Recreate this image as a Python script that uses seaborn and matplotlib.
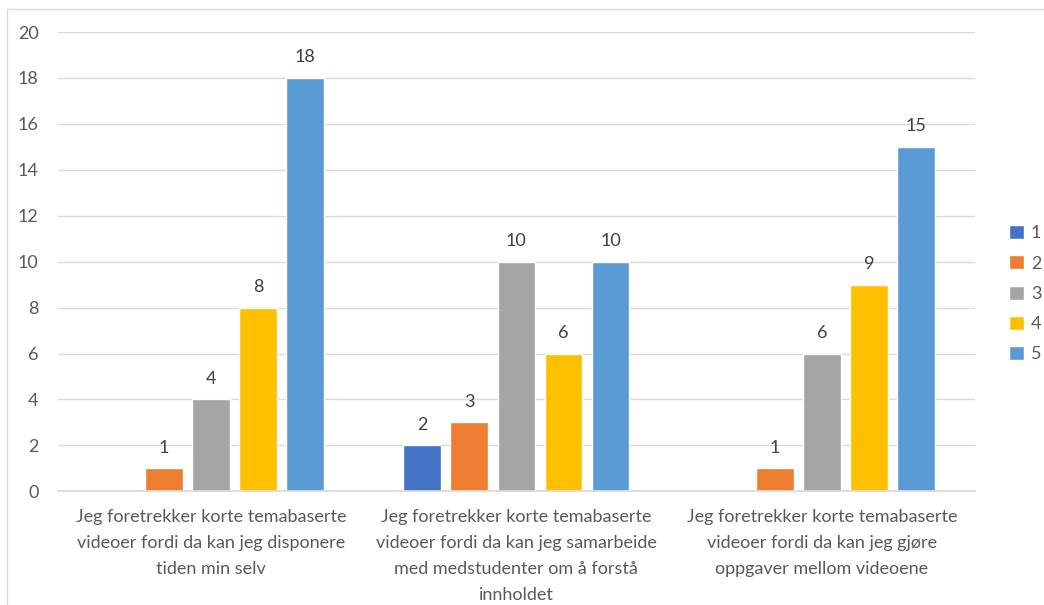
import pandas as pd
import matplotlib.pyplot as plt
from matplotlib.patches import Rectangle
import seaborn as sns

categories = [
    'Jeg foretrekker korte temabaserte\nvideoer fordi da kan jeg disponere\ntiden min selv',
    'Jeg foretrekker korte temabaserte\nvideoer fordi da kan jeg samarbeide\nmed medstudenter om å forstå\ninnholdet',
    'Jeg foretrekker korte temabaserte\nvideoer fordi da kan jeg gjøre\noppgaver mellom videoene',
]
series = ['1', '2', '3', '4', '5']
values_1 = [0, 2, 0]
values_2 = [1, 3, 1]
values_3 = [4, 10, 6]
values_4 = [8, 6, 9]
values_5 = [18, 10, 15]
colors = ['#4472C4', '#ED7D31', '#A5A5A5', '#FFC000', '#5B9BD5']

rows = []
for s, vals in zip(series, [values_1, values_2, values_3, values_4, values_5]):
    for c, v in zip(categories, vals):
        rows.append({'category': c, 'score': s, 'count': v})
df = pd.DataFrame(rows)

sns.set_theme(style='white')
plt.rcParams['font.family'] = ['Lato', 'DejaVu Sans']
text_color = '#595959'

fig = plt.figure(figsize=(10.44, 6.05), dpi=100)
ax = fig.add_axes([0.0556, 0.188, 0.878, 0.759])

sns.barplot(data=df, x='category', y='count', hue='score', palette=colors,
            width=0.77, gap=0.2, ax=ax, saturation=1, legend=True)

for cont in ax.containers:
    labels = [f'{int(b.get_height())}' if b.get_height() > 0 else '' for b in cont]
    ax.bar_label(cont, labels=labels, padding=9, fontsize=13, color='#404040')

ax.set_ylim(0, 20)
ax.set_yticks(range(0, 21, 2))
ax.set_xlim(-0.5, 2.5)
ax.set_xlabel('')
ax.set_ylabel('')
ax.yaxis.grid(True, color='#D9D9D9', linewidth=1)
ax.set_axisbelow(True)
for side in ['top', 'right', 'left']:
    ax.spines[side].set_visible(False)
ax.spines['bottom'].set_color('#D9D9D9')
ax.tick_params(axis='both', length=0, colors=text_color, labelsize=13)
ax.tick_params(axis='y', pad=14)
ax.tick_params(axis='x', pad=13)
for lbl in ax.get_xticklabels():
    lbl.set_linespacing(1.75)

ax.legend(loc='center left', bbox_to_anchor=(1.02, 0.43), frameon=False,
          fontsize=13, labelcolor=text_color, handlelength=0.8, handleheight=0.8,
          handletextpad=0.4, labelspacing=0.78)

fig.patches.append(Rectangle((7 / 1044, -0.1), 1.2, 1.1 - 9 / 605,
                             transform=fig.transFigure, fill=False,
                             edgecolor='#D9D9D9', linewidth=1))

fig.savefig('out.png', dpi=100, facecolor='white')
